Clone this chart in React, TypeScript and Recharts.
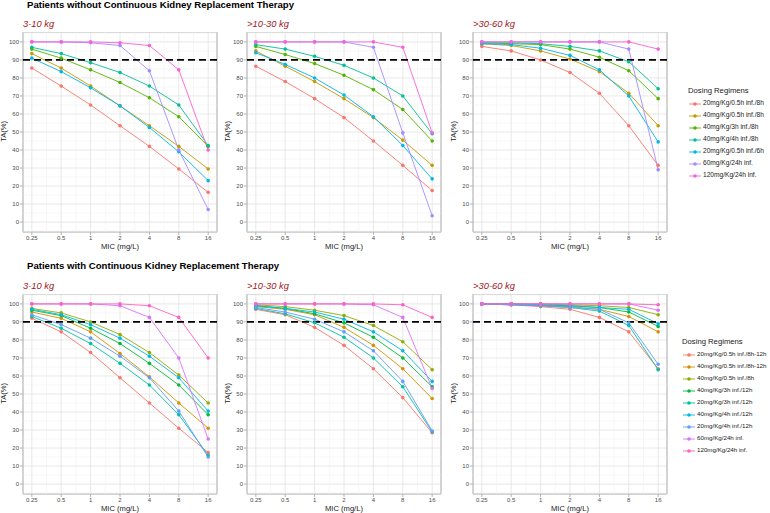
import React from 'react';
import {
  LineChart,
  Line,
  XAxis,
  YAxis,
  CartesianGrid,
  ReferenceLine,
  ReferenceArea
} from 'recharts';

// x axis (MIC, log2 spaced)
const MIC = [0.25, 0.5, 1, 2, 4, 8, 16];
const MIC_LABELS = ['0.25', '0.5', '1', '2', '4', '8', '16'];
const TA_TICKS = [0, 10, 20, 30, 40, 50, 60, 70, 80, 90, 100];
const TARGET = 90;

// patients without CKRT
const REGIMENS_NO_CKRT = [
  '20mg/Kg/0.5h inf./8h',
  '40mg/Kg/0.5h inf./8h',
  '40mg/Kg/3h inf./8h',
  '40mg/Kg/4h inf./8h',
  '20mg/Kg/0.5h inf./6h',
  '60mg/Kg/24h inf.',
  '120mg/Kg/24h inf.'
];
const COLORS_NO_CKRT = ['#F8766D', '#C49A00', '#53B400', '#00C094', '#00B6EB', '#A58AFF', '#FB61D7'];

const NO_CKRT_3_10 = [
  [85.5, 75.5, 65, 53.5, 42, 29.5, 16.5],
  [93.5, 85.5, 75.5, 64.5, 53.5, 42, 29.5],
  [96, 91, 84.5, 77.5, 69, 58.5, 42],
  [97, 93.5, 88.5, 83, 75.5, 65, 42.5],
  [91, 83.5, 74.5, 64.5, 52.5, 39, 23],
  [100, 100, 99.5, 98, 84, 40, 7],
  [100, 100, 100, 99.5, 98, 84.5, 40]
];
const NO_CKRT_10_30 = [
  [86.5, 78, 68.5, 58, 45, 31.5, 17.5],
  [95, 86.5, 78, 68.5, 58, 45.5, 31.5],
  [97.5, 93, 88, 81.5, 73.5, 62.5, 45],
  [98.5, 96, 92, 87, 80, 70, 49],
  [94, 87.5, 80, 70.5, 58.5, 42.5, 24],
  [100, 100, 100, 100, 97, 49.5, 3.5],
  [100, 100, 100, 100, 100, 97, 49.5]
];
const NO_CKRT_30_60 = [
  [97.5, 95, 90, 83, 71.5, 53.5, 31.5],
  [99, 98, 95, 90.5, 83.5, 71.5, 53.5],
  [99.5, 99, 98.5, 96, 91.5, 84, 68.5],
  [99.5, 99.5, 99, 97.5, 95, 89, 74],
  [99, 98.5, 96.5, 92.5, 84.5, 70, 44.5],
  [100, 100, 100, 100, 100, 96, 29],
  [100, 100, 100, 100, 100, 100, 96]
];

// patients with CKRT
const REGIMENS_CKRT = [
  '20mg/Kg/0.5h inf./8h-12h',
  '40mg/Kg/0.5h inf./8h-12h',
  '40mg/Kg/0.5h inf./8h',
  '40mg/Kg/3h inf./12h',
  '20mg/Kg/3h inf./12h',
  '40mg/Kg/4h inf./12h',
  '20mg/Kg/4h inf./12h',
  '60mg/Kg/24h inf.',
  '120mg/Kg/24h inf.'
];
const COLORS_CKRT = ['#F8766D', '#D39200', '#93AA00', '#00BA38', '#00C19F', '#00B9E3', '#619CFF', '#DB72FB', '#FF61C3'];

const CKRT_3_10 = [
  [92, 84.5, 73, 59, 45, 31, 17.5],
  [95.5, 92, 84.5, 72.5, 59.5, 45, 31],
  [97.5, 95, 90, 83, 73, 60.5, 45],
  [96.5, 93.5, 86.5, 78, 67, 55, 38.5],
  [93, 86.5, 78, 67, 55, 38.5, 16],
  [97, 94, 88.5, 81, 71, 59, 40.5],
  [94, 88.5, 81, 71, 59, 40.5, 15],
  [100, 100, 100, 99, 92.5, 70, 25],
  [100, 100, 100, 100, 99, 92.5, 70]
];
const CKRT_10_30 = [
  [97, 94, 87, 77, 64, 48, 28.5],
  [98.5, 97, 94, 87, 77, 64, 47.5],
  [99.5, 98.5, 96.5, 93.5, 88, 79, 63.5],
  [99, 97.5, 94.5, 89.5, 81.5, 70, 54],
  [97.5, 94.5, 89.5, 81.5, 70, 54, 29],
  [99, 97.5, 95.5, 91.5, 84.5, 74, 57],
  [98, 95.5, 91.5, 84.5, 74, 57, 29.5],
  [100, 100, 100, 100, 99.5, 92.5, 53],
  [100, 100, 100, 100, 100, 99.5, 92.5]
];
const CKRT_30_60 = [
  [100, 99.5, 98.5, 97, 92.5, 84.5, 64],
  [100, 100, 99, 98.5, 97, 93, 84.5],
  [100, 100, 100, 99.5, 99, 98, 94],
  [100, 100, 99.5, 99, 98, 95.5, 87.5],
  [100, 99.5, 99, 98, 96, 88, 63.5],
  [100, 100, 99.5, 99, 98, 97, 89],
  [100, 99.5, 99, 98, 97, 89.5, 66.5],
  [100, 100, 100, 100, 100, 100, 96.5],
  [100, 100, 100, 100, 100, 100, 99.5]
];

// layout
const FONT = '"Liberation Sans", Arial, sans-serif';
const PLOT_W = 194;
const PLOT_H = 200;
const Y_AXIS_W = 22;
const X_AXIS_H = 16;
const X_LO = 0.25 / Math.pow(2, 0.3);
const X_HI = 16 * Math.pow(2, 0.3);
const Y_LO = -5.5;
const Y_HI = 105.5;
const Y_MINOR = [-5, 5, 15, 25, 35, 45, 55, 65, 75, 85, 95, 105];
const X_MINOR = MIC.slice(1).map((m) => m / Math.SQRT2);

type TextProps = {
  x: number;
  y: number;
  size: number;
  children: React.ReactNode;
  style?: React.CSSProperties;
};

function Label({ x, y, size, children, style }: TextProps) {
  return (
    <div
      style={{
        position: 'absolute',
        left: x,
        top: y - size / 2,
        fontSize: size,
        lineHeight: 1,
        whiteSpace: 'nowrap',
        fontFamily: FONT,
        ...style
      }}
    >
      {children}
    </div>
  );
}

type PanelProps = {
  title: string;
  series: number[][];
  colors: string[];
  left: number;
  top: number;
};

function Panel({ title, series, colors, left, top }: PanelProps) {
  const rows = MIC.map((mic, i) => {
    const row: Record<string, number> = { mic };
    series.forEach((values, s) => {
      row[`s${s}`] = values[i];
    });
    return row;
  });

  return (
    <>
      <Label x={left} y={top - 8} size={9.4} style={{ color: '#a0181c', fontStyle: 'italic' }}>
        {title}
      </Label>
      <div style={{ position: 'absolute', left: left - Y_AXIS_W, top }}>
        <LineChart
          width={Y_AXIS_W + PLOT_W + 2}
          height={PLOT_H + X_AXIS_H}
          data={rows}
          margin={{ top: 0, right: 2, bottom: 0, left: 0 }}
        >
          <CartesianGrid stroke="#e2e2e2" strokeWidth={0.8} />
          {Y_MINOR.map((v) => (
            <ReferenceLine key={`ym${v}`} y={v} stroke="#efefef" strokeWidth={0.5} />
          ))}
          {X_MINOR.map((v) => (
            <ReferenceLine key={`xm${v}`} x={v} stroke="#efefef" strokeWidth={0.5} />
          ))}
          <XAxis
            dataKey="mic"
            type="number"
            scale="log"
            domain={[X_LO, X_HI]}
            ticks={MIC}
            interval={0}
            height={X_AXIS_H}
            axisLine={false}
            tickLine={{ stroke: '#b3b3b3' }}
            tickSize={3}
            tickMargin={1}
            tick={{ fontSize: 6, fill: '#4d4d4d', fontFamily: FONT }}
            tickFormatter={(v: number) => MIC_LABELS[MIC.indexOf(v)] ?? String(v)}
          />
          <YAxis
            type="number"
            domain={[Y_LO, Y_HI]}
            ticks={TA_TICKS}
            interval={0}
            width={Y_AXIS_W}
            axisLine={false}
            tickLine={{ stroke: '#b3b3b3' }}
            tickSize={3}
            tickMargin={1}
            tick={{ fontSize: 6, fill: '#4d4d4d', fontFamily: FONT }}
          />
          {series.map((_, s) => (
            <Line
              key={s}
              type="linear"
              dataKey={`s${s}`}
              stroke={colors[s]}
              strokeWidth={0.9}
              dot={{ r: 1.8, fill: colors[s], stroke: colors[s], strokeWidth: 0 }}
              activeDot={false}
              isAnimationActive={false}
            />
          ))}
          <ReferenceLine y={TARGET} stroke="#000" strokeWidth={1.7} strokeDasharray="7 4" />
          <ReferenceArea
            x1={X_LO}
            x2={X_HI}
            y1={Y_LO}
            y2={Y_HI}
            fill="none"
            stroke="#b3b3b3"
            strokeWidth={1}
          />
        </LineChart>
      </div>
      <Label x={left - 19 - 10} y={top + PLOT_H / 2} size={7.6} style={{ width: 20, textAlign: 'center', transform: 'rotate(-90deg)', color: '#1a1a1a' }}>
        TA(%)
      </Label>
      <Label x={left} y={top + PLOT_H + 15} size={7.6} style={{ width: PLOT_W, textAlign: 'center', color: '#1a1a1a' }}>
        MIC (mg/L)
      </Label>
    </>
  );
}

type LegendProps = {
  items: string[];
  colors: string[];
  left: number;
  top: number;
  textSize: number;
};

function RegimenLegend({ items, colors, left, top, textSize }: LegendProps) {
  return (
    <>
      <Label x={left} y={top} size={7.7} style={{ color: '#1a1a1a' }}>
        Dosing Regimens
      </Label>
      {items.map((name, i) => (
        <React.Fragment key={name}>
          <svg
            width={12}
            height={6}
            style={{ position: 'absolute', left: left + 1, top: top + 12.5 + i * 12 - 3 }}
          >
            <line x1={0} y1={3} x2={12} y2={3} stroke={colors[i]} strokeWidth={0.9} />
            <circle cx={6} cy={3} r={1.8} fill={colors[i]} />
          </svg>
          <Label x={left + 15} y={top + 12.5 + i * 12} size={textSize} style={{ color: '#1a1a1a' }}>
            {name}
          </Label>
        </React.Fragment>
      ))}
    </>
  );
}

const PANEL_LEFTS = [23, 247, 473];

export default function App() {
  return (
    <div
      style={{
        position: 'absolute',
        left: 0,
        top: 0,
        width: 770,
        height: 513,
        background: '#fff',
        overflow: 'hidden'
      }}
    >
      <Label x={27} y={5} size={9.6} style={{ fontWeight: 'bold', color: '#000' }}>
        Patients without Continuous Kidney Replacement Therapy
      </Label>
      <Panel title="3-10 kg" series={NO_CKRT_3_10} colors={COLORS_NO_CKRT} left={PANEL_LEFTS[0]} top={32} />
      <Panel title=">10-30 kg" series={NO_CKRT_10_30} colors={COLORS_NO_CKRT} left={PANEL_LEFTS[1]} top={32} />
      <Panel title=">30-60 kg" series={NO_CKRT_30_60} colors={COLORS_NO_CKRT} left={PANEL_LEFTS[2]} top={32} />
      <RegimenLegend items={REGIMENS_NO_CKRT} colors={COLORS_NO_CKRT} left={688} top={91} textSize={6.6} />

      <Label x={27} y={266} size={9.6} style={{ fontWeight: 'bold', color: '#000' }}>
        Patients with Continuous Kidney Replacement Therapy
      </Label>
      <Panel title="3-10 kg" series={CKRT_3_10} colors={COLORS_CKRT} left={PANEL_LEFTS[0]} top={294} />
      <Panel title=">10-30 kg" series={CKRT_10_30} colors={COLORS_CKRT} left={PANEL_LEFTS[1]} top={294} />
      <Panel title=">30-60 kg" series={CKRT_30_60} colors={COLORS_CKRT} left={PANEL_LEFTS[2]} top={294} />
      <RegimenLegend items={REGIMENS_CKRT} colors={COLORS_CKRT} left={682} top={342} textSize={6.2} />
    </div>
  );
}
